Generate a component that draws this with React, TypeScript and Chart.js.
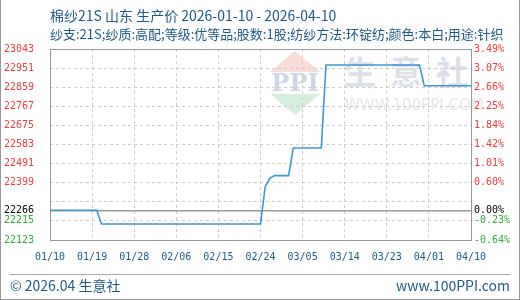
import React, { useEffect, useRef } from 'react';
import { Chart, registerables } from 'chart.js';
Chart.register(...registerables);

// ---- data ----
const dates = [
  '2026-01-10', '2026-01-20', '2026-01-21', '2026-02-24', '2026-02-25', '2026-02-26',
  '2026-02-27', '2026-03-02', '2026-03-03', '2026-03-09', '2026-03-10', '2026-03-30',
  '2026-03-31', '2026-04-10',
];
const prices = [
  22266, 22266, 22200, 22200, 22380, 22420,
  22433, 22433, 22566, 22566, 22966, 22966,
  22866, 22866,
];
const basePrice = 22266;
const xTickLabels = ['01/10', '01/19', '01/28', '02/06', '02/15', '02/24', '03/05', '03/14', '03/23', '04/01', '04/10'];
const xTickStepDays = 9;
const yTickValues = [22123, 22215, 22266, 22307, 22399, 22491, 22583, 22675, 22767, 22859, 22951, 23043];
const yTickLabels = ['22123', '22215', '22266', '', '22399', '22491', '22583', '22675', '22767', '22859', '22951', '23043'];
const pctTickLabels = ['-0.64%', '-0.23%', '0.00%', '', '0.60%', '1.01%', '1.42%', '1.84%', '2.25%', '2.66%', '3.07%', '3.49%'];
const yMin = 22123;
const yMax = 23043;

const titleText = '棉纱21S 山东 生产价 2026-01-10 - 2026-04-10';
const subtitleText = '纱支:21S;纱质:高配;等级:优等品;股数:1股;纺纱方法:环锭纺;颜色:本白;用途:针织';

const dayMs = 86400000;
const startMs = Date.parse(dates[0] + 'T00:00:00Z');
const dayIndex = dates.map((d) => Math.round((Date.parse(d + 'T00:00:00Z') - startMs) / dayMs));

const RED = '#f03a3a';
const GREEN = '#2fae3a';
const BLUE_TEXT = '#1d5a87';

const labelColor = (v: number) => (v > basePrice ? RED : v < basePrice ? GREEN : '#000');

const watermark = {
  id: 'watermark',
  beforeDraw(chart: any) {
    const ctx = chart.ctx;
    ctx.save();
    // red triangle
    ctx.fillStyle = '#f8dcd8';
    ctx.beginPath();
    ctx.moveTo(295, 51);
    ctx.lineTo(320, 72);
    ctx.lineTo(270, 72);
    ctx.closePath();
    ctx.fill();
    // green inverted triangle
    ctx.fillStyle = '#d6efdc';
    ctx.beginPath();
    ctx.moveTo(270, 94);
    ctx.lineTo(320, 94);
    ctx.lineTo(295, 115);
    ctx.closePath();
    ctx.fill();
    // PPI letters
    ctx.fillStyle = '#cdd6e9';
    ctx.font = 'bold 24px "DejaVu Serif", serif';
    ctx.textAlign = 'center';
    ctx.textBaseline = 'middle';
    ctx.fillText('PPI', 295, 85);
    // 生意社
    ctx.fillStyle = '#dbe0ea';
    ctx.font = 'bold 32px "Noto Sans CJK SC", sans-serif';
    ['生', '意', '社'].forEach((c, i) => ctx.fillText(c, 360 + i * 46, 72));
    ctx.fillStyle = '#e6e6e6';
    ctx.font = '15px "DejaVu Sans", sans-serif';
    ctx.textAlign = 'left';
    ctx.fillText('WWW.100PPI.COM', 345, 106);
    ctx.restore();
  },
};

const frame = {
  id: 'frame',
  beforeDatasetsDraw(chart: any) {
    const { ctx, chartArea: a } = chart;
    ctx.save();
    ctx.strokeStyle = '#999';
    ctx.lineWidth = 1;
    ctx.strokeRect(Math.round(a.left) + 0.5, Math.round(a.top) + 0.5, Math.round(a.right - a.left), Math.round(a.bottom - a.top));
    ctx.restore();
  },
};

export default function App() {
  const ref = useRef<HTMLCanvasElement | null>(null);
  useEffect(() => {
    if (!ref.current) return;
    const chart = new Chart(ref.current, {
      type: 'line',
      data: {
        datasets: [
          {
            data: dayIndex.map((d, i) => ({ x: d, y: prices[i] })),
            borderColor: '#3b98d6',
            borderWidth: 1.6,
            pointRadius: 0,
            tension: 0,
            fill: false,
          },
        ],
      },
      options: {
        responsive: false,
        animation: false,
        layout: { padding: { top: 49, left: 0, right: 0, bottom: 0 } },
        plugins: { legend: { display: false }, tooltip: { enabled: false } },
        scales: {
          x: {
            type: 'linear',
            min: 0,
            max: 90,
            afterBuildTicks: (s: any) => {
              s.ticks = xTickLabels.map((_, i) => ({ value: i * xTickStepDays }));
            },
            afterFit: (s: any) => {
              s.height = 60;
            },
            ticks: {
              autoSkip: false,
              maxRotation: 0,
              padding: 11,
              color: BLUE_TEXT,
              font: { family: '"DejaVu Sans Mono", monospace', size: 10 },
              callback: (_v: any, i: number) => xTickLabels[i],
            },
            grid: { color: '#cccccc', lineWidth: 1, drawTicks: false },
            border: { display: false, dash: [3, 3] },
          },
          y: {
            position: 'left',
            min: yMin,
            max: yMax,
            afterBuildTicks: (s: any) => {
              s.ticks = yTickValues.map((v) => ({ value: v }));
            },
            afterFit: (s: any) => {
              s.width = 50;
            },
            ticks: {
              autoSkip: false,
              padding: 16,
              color: (c: any) => labelColor(c.tick.value),
              font: { family: '"DejaVu Sans Mono", monospace', size: 10 },
              callback: (_v: any, i: number) => yTickLabels[i],
            },
            grid: {
              drawTicks: false,
              color: (c: any) => (c.tick && c.tick.value === basePrice ? '#999999' : '#cccccc'),
              lineWidth: (c: any) => (c.tick && c.tick.value === basePrice ? 1.5 : 1),
            },
            border: {
              display: false,
              dash: (c: any) => (c.tick && c.tick.value === basePrice ? [] : [3, 3]),
            },
          },
          y2: {
            position: 'right',
            min: yMin,
            max: yMax,
            afterBuildTicks: (s: any) => {
              s.ticks = yTickValues.map((v) => ({ value: v }));
            },
            afterFit: (s: any) => {
              s.width = 49;
            },
            ticks: {
              autoSkip: false,
              padding: 3,
              color: (c: any) => labelColor(c.tick.value),
              font: { family: '"DejaVu Sans Mono", monospace', size: 10 },
              callback: (_v: any, i: number) => pctTickLabels[i],
            },
            grid: { display: false, drawTicks: false },
            border: { display: false },
          },
        },
      },
      plugins: [watermark, frame],
    } as any);
    return () => chart.destroy();
  }, []);

  const textFont = '"Noto Sans CJK SC", "Noto Sans", sans-serif';
  return (
    <div
      style={{
        position: 'absolute',
        left: 0,
        top: 0,
        width: 520,
        height: 300,
        background: '#fff',
        boxSizing: 'border-box',
        borderLeft: '1px solid #999',
        borderRight: '1px solid #999',
        borderBottom: '1px solid #999',
        overflow: 'hidden',
      }}
    >
      <canvas ref={ref} width={520} height={300} style={{ position: 'absolute', left: -1, top: 0, width: 520, height: 300 }} />
      <div style={{ position: 'absolute', left: 49, top: 6, fontSize: 14, lineHeight: '18px', color: BLUE_TEXT, fontFamily: textFont, whiteSpace: 'nowrap' }}>
        {titleText}
      </div>
      <div style={{ position: 'absolute', left: 49, top: 25, fontSize: 13, lineHeight: '18px', color: BLUE_TEXT, fontFamily: textFont, whiteSpace: 'nowrap' }}>
        {subtitleText}
      </div>
      <div style={{ position: 'absolute', left: 9, top: 274, width: 500, height: 1, background: '#aaa' }} />
      <div style={{ position: 'absolute', left: 9, top: 276, fontSize: 14, lineHeight: '18px', color: BLUE_TEXT, fontFamily: textFont, whiteSpace: 'nowrap' }}>
        © 2026.04 生意社
      </div>
      <div style={{ position: 'absolute', right: 9, top: 276, fontSize: 14, lineHeight: '18px', color: BLUE_TEXT, fontFamily: textFont, whiteSpace: 'nowrap' }}>
        www.100PPI.com
      </div>
    </div>
  );
}
